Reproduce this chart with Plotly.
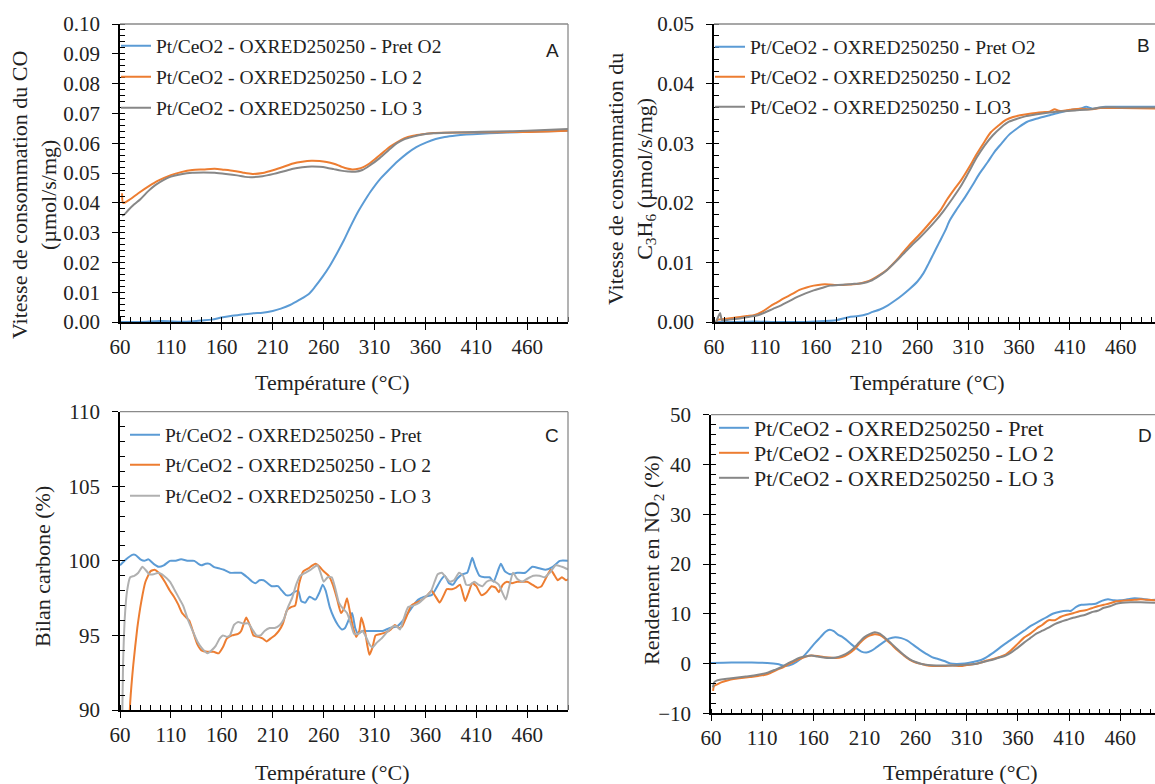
import plotly.graph_objects as go

W, H = 1155, 784


def px(x):
    return x / W


def py(y):
    return 1 - y / H


# ---------------- DATA (temperature °C, value) ----------------
# Panel A : CO consumption rate (µmol/s/mg)
CO_PRET_O2 = [(60, 0.0000), (80, 0.0000), (100, 0.0003), (120, 0.0001), (130, 0.0002), (140, 0.0005),
              (150, 0.0008), (161, 0.0016), (170, 0.0021), (178, 0.0024), (191, 0.0029), (200, 0.0031),
              (210, 0.0037), (218, 0.0045), (227, 0.0057), (236, 0.0074), (246, 0.0096), (252, 0.0120),
              (259, 0.0152), (266, 0.0188), (273, 0.0230), (280, 0.0275), (286, 0.0318), (293, 0.0365),
              (300, 0.0405), (306, 0.0437), (315, 0.0478), (324, 0.0510), (333, 0.0540), (342, 0.0566),
              (351, 0.0587), (361, 0.0603), (370, 0.0614), (379, 0.0621), (390, 0.0626), (400, 0.0629),
              (415, 0.0632), (430, 0.0634), (450, 0.0637), (470, 0.0639), (500, 0.0642)]
CO_LO2 = [(62, 0.0432), (63, 0.0400), (65, 0.0401), (70, 0.0412), (78, 0.0432), (88, 0.0455),
          (98, 0.0475), (110, 0.0493), (120, 0.0503), (131, 0.0510), (142, 0.0512), (153, 0.0514),
          (162, 0.0511), (172, 0.0507), (181, 0.0501), (190, 0.0497), (200, 0.0500), (211, 0.0510),
          (220, 0.0520), (230, 0.0532), (239, 0.0538), (248, 0.0541), (256, 0.0540), (263, 0.0537),
          (270, 0.0531), (277, 0.0522), (283, 0.0515), (288, 0.0512), (294, 0.0514), (299, 0.0520),
          (305, 0.0532), (310, 0.0545), (317, 0.0565), (325, 0.0588), (332, 0.0603), (339, 0.0616),
          (348, 0.0625), (357, 0.0630), (368, 0.0634), (379, 0.0635), (400, 0.0636), (430, 0.0637),
          (460, 0.0638), (500, 0.0642)]
CO_LO3 = [(62, 0.0357), (64, 0.0360), (68, 0.0375), (74, 0.0395), (80, 0.0412), (88, 0.0440),
          (95, 0.0460), (103, 0.0477), (110, 0.0488), (120, 0.0496), (131, 0.0501), (142, 0.0502),
          (153, 0.0501), (164, 0.0497), (175, 0.0492), (183, 0.0487), (190, 0.0486), (200, 0.0489),
          (211, 0.0497), (220, 0.0505), (230, 0.0514), (239, 0.0519), (248, 0.0522), (256, 0.0521),
          (263, 0.0518), (270, 0.0513), (277, 0.0508), (284, 0.0505), (291, 0.0504), (298, 0.0510),
          (306, 0.0527), (315, 0.0550), (324, 0.0577), (332, 0.0600), (339, 0.0613), (348, 0.0622),
          (357, 0.0629), (368, 0.0633), (379, 0.0635), (400, 0.0637), (430, 0.0639), (460, 0.0642),
          (500, 0.0648)]

# Panel B : C3H6 consumption rate (µmol/s/mg)
C3H6_PRET_O2 = [(60, 0.0000), (80, 0.0000), (100, 0.0001), (120, 0.0000), (140, 0.0000), (160, 0.0001),
                (180, 0.0003), (192, 0.0008), (202, 0.0010), (210, 0.0013), (216, 0.0017), (223, 0.0021),
                (231, 0.0028), (238, 0.0036), (245, 0.0045), (252, 0.0055), (260, 0.0068), (266, 0.0082),
                (271, 0.0098), (276, 0.0115), (281, 0.0132), (287, 0.0152), (292, 0.0171), (299, 0.0190),
                (307, 0.0210), (314, 0.0229), (321, 0.0249), (329, 0.0268), (336, 0.0286), (343, 0.0300),
                (350, 0.0314), (359, 0.0326), (368, 0.0336), (379, 0.0342), (390, 0.0347), (401, 0.0352),
                (412, 0.0356), (420, 0.0358), (426, 0.0361), (432, 0.0358), (445, 0.0361), (470, 0.0361),
                (494, 0.0361)]
C3H6_LO2 = [(62, 0.0000), (64, 0.0004), (70, 0.0005), (80, 0.0007), (92, 0.0010), (100, 0.0012),
            (108, 0.0018), (115, 0.0026), (122, 0.0033), (129, 0.0040), (137, 0.0047), (144, 0.0054),
            (151, 0.0058), (158, 0.0061), (166, 0.0063), (173, 0.0063), (180, 0.0062), (187, 0.0062),
            (195, 0.0063), (202, 0.0064), (209, 0.0067), (216, 0.0072), (223, 0.0079), (231, 0.0089),
            (238, 0.0101), (245, 0.0115), (252, 0.0129), (260, 0.0143), (267, 0.0156), (274, 0.0170),
            (282, 0.0186), (289, 0.0205), (296, 0.0222), (303, 0.0238), (311, 0.0260), (318, 0.0281),
            (325, 0.0300), (332, 0.0318), (340, 0.0330), (347, 0.0339), (354, 0.0344), (361, 0.0347),
            (372, 0.0350), (383, 0.0352), (390, 0.0353), (395, 0.0357), (398, 0.0355), (402, 0.0354),
            (410, 0.0356), (420, 0.0358), (430, 0.0357), (440, 0.0359), (460, 0.0359), (494, 0.0358)]
C3H6_LO3 = [(62, 0.0000), (64, 0.0008), (66, 0.0015), (68, 0.0003), (75, 0.0004), (85, 0.0006),
            (95, 0.0009), (102, 0.0011), (110, 0.0016), (118, 0.0022), (126, 0.0028), (134, 0.0035),
            (142, 0.0042), (150, 0.0048), (158, 0.0053), (166, 0.0057), (174, 0.0061), (182, 0.0062),
            (190, 0.0063), (198, 0.0064), (206, 0.0065), (214, 0.0069), (222, 0.0077), (230, 0.0087),
            (238, 0.0100), (246, 0.0114), (254, 0.0128), (262, 0.0141), (270, 0.0155), (278, 0.0170),
            (286, 0.0187), (294, 0.0206), (302, 0.0226), (310, 0.0250), (318, 0.0275), (326, 0.0296),
            (334, 0.0313), (342, 0.0326), (350, 0.0336), (358, 0.0341), (366, 0.0345), (376, 0.0348),
            (388, 0.0351), (400, 0.0353), (415, 0.0355), (430, 0.0357), (440, 0.0360), (460, 0.0360),
            (494, 0.0360)]

# Panel C : carbon balance (%)
CB_PRET = [(60, 99.7), (66, 100.1), (72, 100.4), (75, 100.4), (80, 100.1), (84, 100.0), (88, 100.1),
           (93, 99.8), (98, 99.6), (103, 99.7), (109, 100.0), (114, 100.0), (120, 100.1), (127, 100.0),
           (133, 100.0), (137, 99.8), (140, 99.7), (144, 99.8), (148, 99.8), (152, 99.6), (157, 99.5),
           (162, 99.4), (168, 99.2), (174, 99.2), (179, 99.2), (185, 98.9), (190, 98.6), (193, 98.5),
           (197, 98.7), (201, 98.7), (205, 98.5), (209, 98.3), (215, 98.3), (219, 98.0), (223, 97.7),
           (227, 97.7), (231, 97.9), (235, 98.0), (238, 97.3), (242, 97.2), (246, 97.6), (249, 97.5),
           (252, 97.4), (256, 97.9), (259, 98.4), (262, 98.0), (266, 96.9), (270, 96.2), (274, 95.7),
           (278, 95.4), (281, 95.5), (285, 96.1), (288, 96.5), (291, 95.5), (294, 95.1), (298, 95.3),
           (303, 95.3), (310, 95.3), (318, 95.3), (325, 95.5), (332, 95.6), (338, 96.0), (343, 96.5),
           (348, 97.0), (353, 97.4), (359, 97.6), (366, 97.7), (370, 98.1), (375, 98.7), (379, 99.0),
           (383, 98.5), (387, 98.4), (391, 98.8), (396, 99.1), (401, 99.2), (404, 99.8), (406, 100.2),
           (409, 99.6), (413, 99.0), (418, 98.9), (423, 98.9), (427, 98.6), (430, 99.1), (434, 99.8),
           (438, 99.3), (443, 99.1), (450, 99.2), (458, 99.2), (465, 99.6), (472, 99.5), (478, 99.4),
           (485, 99.6), (492, 100.0), (501, 100.0)]
CB_LO2 = [(66, 85.0), (70, 90.5), (73, 93.0), (77, 95.5), (81, 97.3), (85, 98.6), (90, 99.3), (94, 99.4),
          (98, 99.2), (104, 98.6), (109, 98.0), (113, 97.6), (117, 97.1), (121, 96.5), (125, 96.2),
          (128, 96.0), (132, 95.2), (136, 94.4), (140, 94.0), (146, 93.9), (152, 93.9), (157, 93.8),
          (161, 94.2), (165, 94.8), (170, 95.0), (176, 95.1), (179, 95.3), (184, 96.2), (188, 95.6),
          (191, 95.0), (196, 94.9), (200, 94.8), (204, 94.6), (208, 94.8), (212, 95.0), (216, 95.3),
          (220, 95.8), (224, 96.7), (228, 96.9), (232, 97.0), (236, 98.5), (240, 99.3), (245, 99.5),
          (249, 99.7), (252, 99.8), (256, 99.6), (260, 99.3), (265, 99.0), (269, 98.4), (273, 97.5),
          (277, 96.5), (280, 96.8), (283, 97.5), (286, 96.5), (289, 95.5), (292, 94.9), (295, 95.3),
          (297, 96.2), (300, 95.5), (303, 94.3), (305, 93.7), (308, 94.2), (311, 95.0), (316, 95.1),
          (321, 95.2), (326, 95.4), (330, 95.7), (334, 95.5), (337, 95.6), (341, 96.2), (346, 97.0),
          (351, 97.2), (357, 97.4), (362, 97.7), (366, 98.0), (370, 97.6), (374, 97.2), (378, 97.7),
          (381, 98.1), (386, 98.1), (390, 98.2), (394, 98.4), (399, 97.3), (402, 97.8), (406, 98.5),
          (410, 98.3), (415, 97.7), (420, 97.9), (425, 98.3), (429, 98.2), (432, 97.9), (436, 98.4),
          (440, 98.6), (445, 98.5), (450, 98.6), (455, 98.6), (460, 98.6), (465, 98.4), (470, 98.2),
          (474, 98.3), (478, 98.8), (483, 99.4), (487, 99.0), (490, 98.7), (494, 98.9), (498, 98.7),
          (501, 98.8)]
CB_LO3 = [(61, 82.0), (62, 88.0), (63, 93.0), (65, 96.5), (67, 98.0), (70, 98.9), (74, 99.0), (78, 99.2),
          (82, 99.6), (85, 99.4), (89, 99.1), (93, 99.1), (98, 99.2), (103, 99.0), (109, 98.6), (114, 98.0),
          (118, 97.5), (122, 97.0), (127, 96.0), (132, 95.2), (136, 94.6), (141, 94.1), (146, 93.8),
          (150, 94.0), (154, 94.3), (158, 94.8), (161, 95.0), (165, 94.9), (168, 95.0), (172, 95.7),
          (176, 95.9), (181, 95.8), (186, 95.8), (190, 95.4), (194, 95.0), (198, 95.0), (202, 95.3),
          (207, 95.5), (212, 95.5), (217, 95.7), (221, 96.1), (225, 96.9), (229, 97.5), (233, 98.4),
          (237, 99.0), (242, 99.2), (247, 99.4), (251, 99.6), (254, 99.7), (257, 99.2), (260, 98.6),
          (264, 98.9), (268, 98.9), (272, 98.0), (275, 97.2), (279, 96.8), (283, 96.5), (287, 95.7),
          (290, 95.1), (294, 95.1), (298, 95.3), (301, 95.0), (305, 94.4), (308, 94.2), (312, 94.5),
          (317, 94.8), (322, 95.2), (328, 95.6), (332, 95.6), (335, 95.4), (339, 96.2), (343, 96.9),
          (348, 97.0), (354, 97.2), (360, 97.6), (365, 97.9), (369, 98.6), (372, 99.1), (376, 99.2),
          (380, 98.9), (384, 98.6), (388, 98.7), (393, 99.2), (397, 99.0), (400, 98.4), (404, 98.4),
          (408, 98.6), (412, 98.4), (416, 98.3), (420, 98.6), (424, 98.7), (428, 98.6), (432, 98.4),
          (436, 97.8), (439, 97.4), (442, 98.2), (446, 99.2), (450, 98.8), (455, 98.6), (460, 98.8),
          (466, 99.0), (472, 99.0), (477, 98.9), (482, 99.2), (488, 99.7), (494, 99.6), (501, 99.4)]

# Panel D : NO2 yield (%)
NO2_PRET = [(60, 0.1), (80, 0.2), (100, 0.2), (115, 0.1), (125, -0.1), (133, -0.5), (140, -0.1),
            (147, 0.8), (152, 1.8), (157, 3.0), (162, 4.2), (167, 5.3), (172, 6.4), (176, 6.8),
            (180, 6.5), (184, 5.8), (188, 5.4), (192, 4.8), (197, 3.9), (202, 3.1), (207, 2.4),
            (212, 2.2), (217, 2.6), (222, 3.3), (228, 4.2), (234, 5.0), (240, 5.3), (246, 5.1),
            (252, 4.6), (258, 3.7), (264, 2.8), (270, 2.0), (276, 1.3), (282, 0.9), (288, 0.5),
            (294, 0.0), (300, -0.1), (308, 0.0), (316, 0.3), (324, 0.7), (331, 1.5), (338, 2.5),
            (345, 3.6), (352, 4.6), (359, 5.6), (366, 6.6), (373, 7.6), (380, 8.4), (387, 9.2),
            (394, 10.0), (401, 10.4), (408, 10.6), (412, 10.6), (417, 11.4), (422, 11.8), (430, 11.9),
            (436, 12.0), (442, 12.6), (448, 12.9), (454, 12.7), (460, 12.7), (467, 12.9), (474, 13.1),
            (481, 13.0), (488, 12.8), (495, 12.8)]
NO2_LO2 = [(62, -5.5), (63, -4.5), (66, -4.2), (70, -3.8), (76, -3.4), (82, -3.1), (90, -2.9),
           (98, -2.7), (106, -2.5), (112, -2.3), (118, -1.9), (124, -1.3), (130, -0.8), (136, -0.1),
           (142, 0.5), (148, 1.0), (153, 1.4), (158, 1.6), (164, 1.5), (170, 1.3), (176, 1.2),
           (182, 1.1), (188, 1.3), (194, 1.9), (200, 2.8), (205, 4.0), (210, 5.0), (215, 5.6),
           (220, 5.9), (225, 5.7), (230, 5.0), (236, 3.9), (242, 2.7), (248, 1.7), (254, 0.8),
           (260, 0.2), (266, -0.1), (272, -0.4), (280, -0.5), (288, -0.5), (296, -0.4), (304, -0.5),
           (310, -0.3), (318, -0.1), (324, 0.2), (330, 0.6), (336, 0.9), (342, 1.3), (348, 1.8),
           (354, 2.8), (360, 4.0), (366, 5.2), (372, 6.0), (378, 7.0), (384, 7.8), (390, 8.7),
           (396, 8.7), (402, 9.4), (408, 9.8), (414, 10.1), (420, 10.5), (426, 10.7), (432, 11.1),
           (438, 11.5), (444, 11.8), (450, 12.1), (456, 12.5), (462, 12.6), (468, 12.7), (474, 12.8),
           (480, 12.9), (486, 12.8), (494, 12.7)]
NO2_LO3 = [(62, -4.8), (63, -3.8), (66, -3.4), (70, -3.2), (78, -3.0), (86, -2.8), (94, -2.6),
           (102, -2.4), (110, -2.1), (116, -1.8), (122, -1.3), (128, -0.8), (134, -0.1), (140, 0.5),
           (146, 1.1), (152, 1.4), (158, 1.6), (164, 1.4), (170, 1.2), (176, 1.1), (182, 1.2),
           (188, 1.6), (194, 2.2), (200, 3.2), (205, 4.3), (210, 5.3), (215, 5.9), (220, 6.3),
           (225, 6.0), (230, 5.2), (236, 4.1), (242, 2.9), (248, 1.8), (254, 0.9), (260, 0.3),
           (266, -0.1), (272, -0.3), (280, -0.4), (288, -0.4), (296, -0.4), (304, -0.3), (310, -0.2),
           (318, -0.1), (324, 0.2), (330, 0.5), (336, 0.8), (342, 1.2), (348, 1.6), (354, 2.3),
           (360, 3.2), (366, 4.2), (372, 5.1), (378, 6.0), (384, 6.6), (390, 7.2), (396, 7.9),
           (402, 8.4), (408, 8.8), (414, 9.2), (420, 9.5), (426, 9.8), (432, 10.3), (438, 10.6),
           (444, 11.2), (450, 11.5), (456, 12.0), (462, 12.2), (470, 12.3), (480, 12.3), (494, 12.2)]

X_TICKS = [60, 110, 160, 210, 260, 310, 360, 410, 460]
PREFIX = "Pt/CeO2 - OXRED250250 - "
NAMES_A = ["Pret O2", "LO 2", "LO 3"]
NAMES_B = ["Pret O2", "LO2", "LO3"]
NAMES_C = ["Pret", "LO 2", "LO 3"]
NAMES_D = ["Pret", "LO 2", "LO 3"]

# ---------------- STYLE ----------------
BLUE, ORANGE = "#5B9BD5", "#ED7D31"
GREY_D, GREY_L = "#878787", "#B0B0B0"
TXT = "#222222"
SERIF = "Liberation Serif, Times New Roman, serif"
SANS = "Liberation Sans, Arial, sans-serif"

panels = [
    dict(s="", data=[CO_PRET_O2, CO_LO2, CO_LO3], names=NAMES_A, cols=[BLUE, ORANGE, GREY_D],
         xd=(120, 568), yd=(24, 322), xr=[60, 500], yr=[0, 0.10], dt=0.01, mn=0.002, fmt=".2f",
         leg=[46, 77, 108], lx=160, lf=19.5, sm=0.8),
    dict(s="2", data=[C3H6_PRET_O2, C3H6_LO2, C3H6_LO3], names=NAMES_B, cols=[BLUE, ORANGE, GREY_D],
         xd=(714, 1155), yd=(24, 322), xr=[60, 493.6], yr=[0, 0.05], dt=0.01, mn=0.002, fmt=".2f",
         leg=[47, 77, 107], lx=754, lf=19.5, sm=0.8),
    dict(s="3", data=[CB_PRET, CB_LO2, CB_LO3], names=NAMES_C, cols=[BLUE, ORANGE, GREY_L],
         xd=(120, 568), yd=(411.7, 710), xr=[60, 500], yr=[90, 110], dt=5, mn=1, fmt="d",
         leg=[435, 465, 496], lx=169, lf=19.5, sm=0.5),
    dict(s="4", data=[NO2_PRET, NO2_LO2, NO2_LO3], names=NAMES_D, cols=[BLUE, ORANGE, GREY_D],
         xd=(711, 1155), yd=(414.7, 713.3), xr=[60, 494], yr=[-10, 50], dt=10, mn=2, fmt="d",
         leg=[428, 453, 478], lx=758, lf=22, sm=0.8),
]

fig = go.Figure()
layout = dict(width=W, height=H, margin=dict(l=0, r=0, t=0, b=0, autoexpand=False),
              paper_bgcolor="white", plot_bgcolor="white", showlegend=True,
              font=dict(family=SERIF, color=TXT))
shapes = []
leg_idx = 0
for p in panels:
    s = p["s"]
    for series, name, col, ly in zip(p["data"], p["names"], p["cols"], p["leg"]):
        leg_idx += 1
        lid = "legend" if leg_idx == 1 else f"legend{leg_idx}"
        xs = [t for t, _ in series]
        ys = [v for _, v in series]
        fig.add_trace(go.Scatter(
            x=xs, y=ys, mode="lines", name=PREFIX + name,
            line=dict(color=col, width=2, shape="spline", smoothing=p["sm"]),
            xaxis="x" + s, yaxis="y" + s, legend=lid))
        layout[lid] = dict(x=px(p["lx"] - 44), y=py(ly), xanchor="left", yanchor="middle",
                           bgcolor="rgba(0,0,0,0)", borderwidth=0, itemwidth=30,
                           font=dict(family=SERIF, size=p["lf"], color=TXT))
    xk = "xaxis" + s
    yk = "yaxis" + s
    layout[xk] = dict(domain=[px(p["xd"][0]), px(p["xd"][1])], range=p["xr"], anchor="y" + s,
                      automargin=False,
                      tickmode="array", tickvals=X_TICKS, ticks="outside", ticklen=6,
                      tickwidth=1.2, tickcolor="black", showline=True, linecolor="black",
                      linewidth=1.5, showgrid=False, zeroline=False, ticklabelstandoff=-1,
                      tickfont=dict(family=SERIF, size=21, color=TXT),
                      minor=dict(tickmode="linear", tick0=60, dtick=10, ticks="inside", ticklen=5,
                                 tickwidth=1, tickcolor="black"))
    layout[yk] = dict(domain=[py(p["yd"][1]), py(p["yd"][0])], range=p["yr"], anchor="x" + s,
                      automargin=False,
                      dtick=p["dt"], tick0=p["yr"][0], tickformat=p["fmt"], ticks="outside",
                      ticklen=6, tickwidth=1.2, tickcolor="black", showline=True, linecolor="black",
                      linewidth=1.5, showgrid=False, zeroline=False, ticklabelstandoff=8,
                      tickfont=dict(family=SERIF, size=21, color=TXT),
                      minor=dict(dtick=p["mn"], tick0=p["yr"][0], ticks="inside", ticklen=5,
                                 tickwidth=1, tickcolor="black"))
    shapes.append(dict(type="line", xref=("x" + s) + " domain", yref=("y" + s) + " domain",
                       x0=0, x1=1, y0=1, y1=1, line=dict(color="#8a8a8a", width=1.3)))
    if p["xd"][1] < W:
        shapes.append(dict(type="line", xref=("x" + s) + " domain", yref=("y" + s) + " domain",
                           x0=1, x1=1, y0=0, y1=1, line=dict(color="#8a8a8a", width=1.3)))

layout["shapes"] = shapes

ann = []


def text(x, y, t, size=22, angle=0, family=SERIF):
    ann.append(dict(x=px(x), y=py(y), xref="paper", yref="paper", text=t, showarrow=False,
                    xanchor="center", yanchor="middle", textangle=angle,
                    font=dict(family=family, size=size, color=TXT)))


text(34, 195, "Vitesse de consommation du CO<br>(µmol/s/mg)", angle=-90)
text(631, 179, "Vitesse de consommation du<br>C<sub>3</sub>H<sub>6</sub> (µmol/s/mg)", angle=-90)
text(42, 567, "Bilan carbone (%)", angle=-90)
text(653, 560, "Rendement en NO<sub>2</sub> (%)", angle=-90)
for xx, yy in [(332, 383), (927, 383), (332, 772), (960, 772)]:
    text(xx, yy, "Température (°C)")
for xx, yy, t in [(552, 50, "A"), (1143, 46, "B"), (552, 435, "C"), (1145, 435, "D")]:
    text(xx, yy, t, size=19, family=SANS)

layout["annotations"] = ann
fig.update_layout(**layout)
fig.write_html("out.html", config={"displayModeBar": False},
               post_script="document.body.style.margin='0';document.body.style.overflow='hidden';")
